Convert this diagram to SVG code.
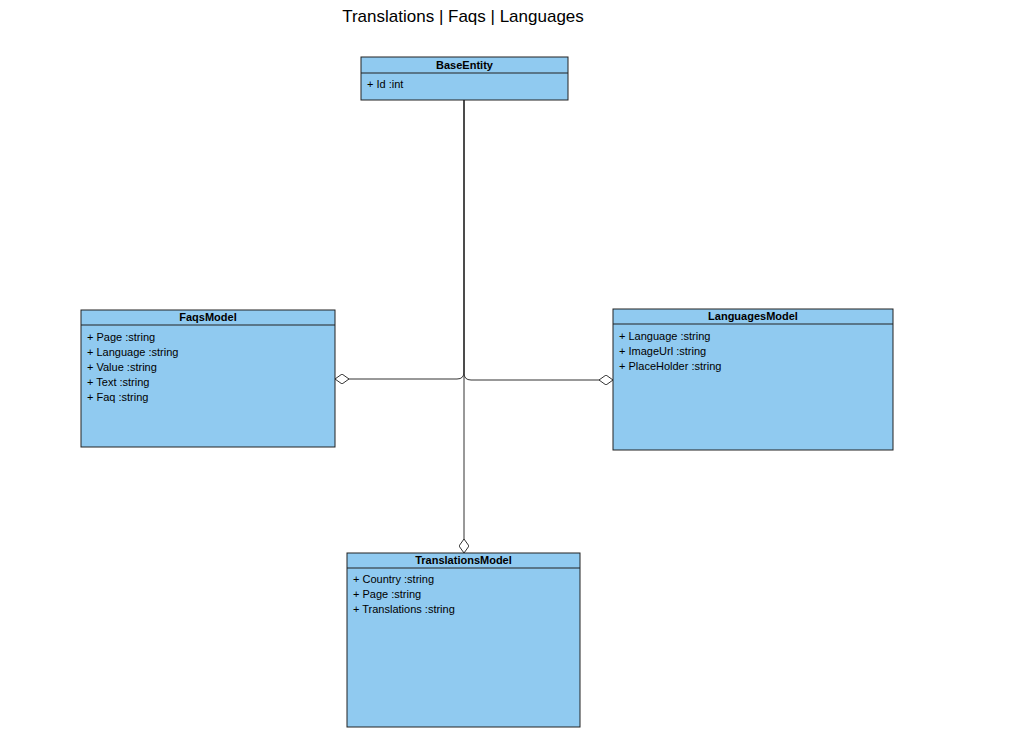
<svg xmlns="http://www.w3.org/2000/svg" width="1024" height="754" viewBox="0 0 1024 754">
<style>
.box{fill:#90CAF0;stroke:#222;stroke-width:1}
.sep{stroke:#222;stroke-width:1}
.hd{font-family:"Liberation Sans",Arial,sans-serif;font-size:11px;font-weight:bold;text-anchor:middle;fill:#000}
.m{font-family:"Liberation Sans",Arial,sans-serif;font-size:11px;fill:#000}
.e{fill:none;stroke:#333;stroke-width:1}
.title{font-family:"Liberation Sans",Arial,sans-serif;font-size:17px;text-anchor:middle;fill:#000}
</style>
<defs>
<marker id="dia" viewBox="0 0 14 10" refX="14" refY="5" markerWidth="14" markerHeight="10" markerUnits="userSpaceOnUse" orient="auto">
<path d="M0,5 L7,0 L14,5 L7,10 Z" fill="#fff" stroke="#333" stroke-width="1"/>
</marker>
</defs>
<rect width="1024" height="754" fill="#fff"/>
<text class="title" x="463" y="22">Translations | Faqs | Languages</text>
<g id="connectors">
<path class="e" d="M464,100 L464,372 Q464,379 457,379 L335,379" marker-end="url(#dia)"/>
<path class="e" d="M464,100 L464,373 Q464,380 471,380 L613,380" marker-end="url(#dia)"/>
<path class="e" d="M464,100 L464,553" marker-end="url(#dia)"/>
</g>
<g id="BaseEntity">
<rect class="box" x="361" y="57" width="207" height="43"/>
<line class="sep" x1="361" y1="73" x2="568" y2="73"/>
<text class="hd" x="464.5" y="69">BaseEntity</text>
<text class="m" x="367" y="88">+ Id :int</text>
</g>
<g id="FaqsModel">
<rect class="box" x="81" y="310" width="254" height="137"/>
<line class="sep" x1="81" y1="325" x2="335" y2="325"/>
<text class="hd" x="208" y="321">FaqsModel</text>
<text class="m" x="87" y="341">+ Page :string</text>
<text class="m" x="87" y="356">+ Language :string</text>
<text class="m" x="87" y="371">+ Value :string</text>
<text class="m" x="87" y="386">+ Text :string</text>
<text class="m" x="87" y="401">+ Faq :string</text>
</g>
<g id="LanguagesModel">
<rect class="box" x="613" y="309" width="280" height="141"/>
<line class="sep" x1="613" y1="324" x2="893" y2="324"/>
<text class="hd" x="753" y="320">LanguagesModel</text>
<text class="m" x="619" y="340">+ Language :string</text>
<text class="m" x="619" y="355">+ ImageUrl :string</text>
<text class="m" x="619" y="370">+ PlaceHolder :string</text>
</g>
<g id="TranslationsModel">
<rect class="box" x="347" y="553" width="233" height="174"/>
<line class="sep" x1="347" y1="568" x2="580" y2="568"/>
<text class="hd" x="463.5" y="564">TranslationsModel</text>
<text class="m" x="353" y="583">+ Country :string</text>
<text class="m" x="353" y="598">+ Page :string</text>
<text class="m" x="353" y="613">+ Translations :string</text>
</g>
</svg>
